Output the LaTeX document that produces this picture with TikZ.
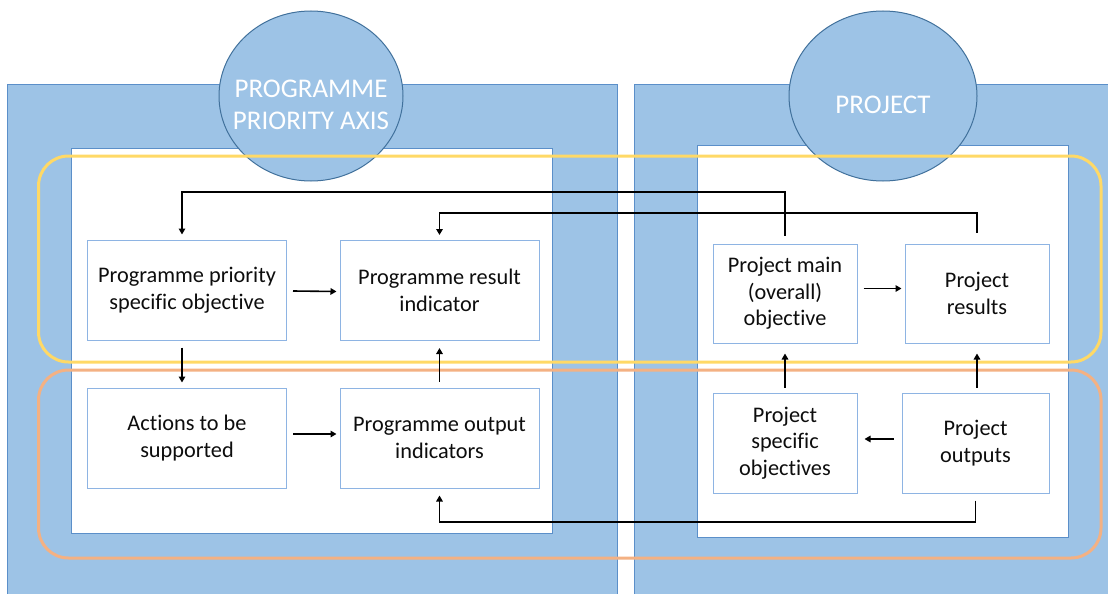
\documentclass[tikz,border=0pt]{standalone}
\usepackage{fontspec}
\setmainfont{Carlito}[Ligatures=NoCommon]
\usetikzlibrary{arrows.meta}
\definecolor{panelfill}{HTML}{9DC3E6}
\definecolor{paneledge}{HTML}{5B8FC9}
\definecolor{bubbleedge}{HTML}{41719C}
\definecolor{boxedge}{HTML}{8EB4E3}
\definecolor{loopyellow}{HTML}{FFD966}
\definecolor{looporange}{HTML}{F4B183}
\tikzset{
  panelbox/.style={fill=panelfill,draw=paneledge,line width=0.8pt},
  innerbox/.style={fill=white,draw=paneledge,line width=0.8pt},
  bubble/.style={fill=panelfill,draw=bubbleedge,line width=1pt},
  bubbletext/.style={text=white,font=\fontsize{27}{32}\selectfont,align=center,inner sep=0pt},
  stepbox/.style={draw=boxedge,fill=white,line width=1pt,inner sep=0pt,align=center,
    font=\fontsize{22.3}{26.5}\selectfont,text=black!95},
  arr/.style={draw=black,line width=1.6pt,-{Triangle[length=6pt,width=6.5pt]}},
  loopy/.style={draw=loopyellow,line width=3pt,rounded corners=30pt},
  loopo/.style={draw=looporange,line width=3pt,rounded corners=30pt}
}
\begin{document}
\begin{tikzpicture}[x=1pt,y=-1pt]
\useasboundingbox (0,0) rectangle (1108,594);
\clip (0,0) rectangle (1108,594);
\fill[white] (0,0) rectangle (1108,594);
% panels
\path[panelbox] (7,84) rectangle (617,610);
\path[panelbox] (634,84) rectangle (1120,610);
\path[innerbox] (71.5,148) rectangle (552,533);
\path[innerbox] (697,145) rectangle (1068,537);
% bubbles
\path[bubble] (311,96) ellipse [x radius=92, y radius=85];
\path[bubble] (883,96) ellipse [x radius=94, y radius=85];
\node[bubbletext] (lbl1) at (311,105) {PROGRAMME\\PRIORITY AXIS};
\node[bubbletext] (lbl2) at (883,105) {PROJECT};
% loops
\draw[loopy] (38.5,156) rectangle (1101,362);
\draw[loopo] (38.5,370) rectangle (1101,558);
% boxes
\node[stepbox,minimum width=199pt,minimum height=100pt] (b1) at (187,290) {Programme priority\\specific objective};
\node[stepbox,minimum width=199pt,minimum height=100pt] (b2) at (439.5,290.5) {Programme result\\indicator};
\node[stepbox,minimum width=199pt,minimum height=100pt] (b3) at (187,438) {Actions to be\\supported};
\node[stepbox,minimum width=199pt,minimum height=100pt] (b4) at (439.5,438) {Programme output\\indicators};
\node[stepbox,minimum width=144pt,minimum height=99pt] (b5) at (785,293.5) {Project main\\(overall)\\objective};
\node[stepbox,minimum width=144pt,minimum height=99pt] (b6) at (977,293.5) {Project\\results};
\node[stepbox,minimum width=144pt,minimum height=100pt] (b7) at (785,443) {Project\\specific\\objectives};
\node[stepbox,minimum width=147pt,minimum height=100pt] (b8) at (975.5,443) {Project\\outputs};
% routing coordinates
\coordinate (t1) at (0,192);
\coordinate (t2) at (0,213);
\coordinate (t3) at (0,522);
% arrows
\draw[arr] ([xshift=6pt,yshift=-1pt]b1.east) -- ([xshift=-3pt,yshift=-1pt]b2.west);
\draw[arr] ([xshift=6pt,yshift=4pt]b3.east) -- ([xshift=-3pt,yshift=4pt]b4.west);
\draw[arr] ([xshift=6pt,yshift=5pt]b5.east) -- ([xshift=-3pt,yshift=5pt]b6.west);
\draw[arr] ([xshift=-8pt,yshift=4pt]b8.west) -- ([xshift=7pt,yshift=4pt]b7.east);
\draw[arr] ([xshift=-5pt,yshift=-7pt]b1.south) -- ([xshift=-5pt,yshift=5pt]b3.north);
\draw[arr] ([yshift=6pt]b4.north) -- ([yshift=-7pt]b2.south);
\draw[arr] ([yshift=5pt]b7.north) -- ([yshift=-10pt]b5.south);
\draw[arr] ([yshift=5pt]b8.north -| b6.south) -- ([yshift=-10pt]b6.south);
\draw[arr] ([yshift=8pt]b5.north) -- (b5.north |- t1) -- ([xshift=-5pt]b1.north |- t1) -- ([xshift=-5pt,yshift=5pt]b1.north);
\draw[arr] ([yshift=11pt]b6.north) -- (b6.north |- t2) -- (b2.north |- t2) -- ([yshift=5pt]b2.north);
\draw[arr] ([yshift=-7pt]b8.south) -- (b8.south |- t3) -- (b4.south |- t3) -- ([yshift=-7pt]b4.south);
\end{tikzpicture}
\end{document}
